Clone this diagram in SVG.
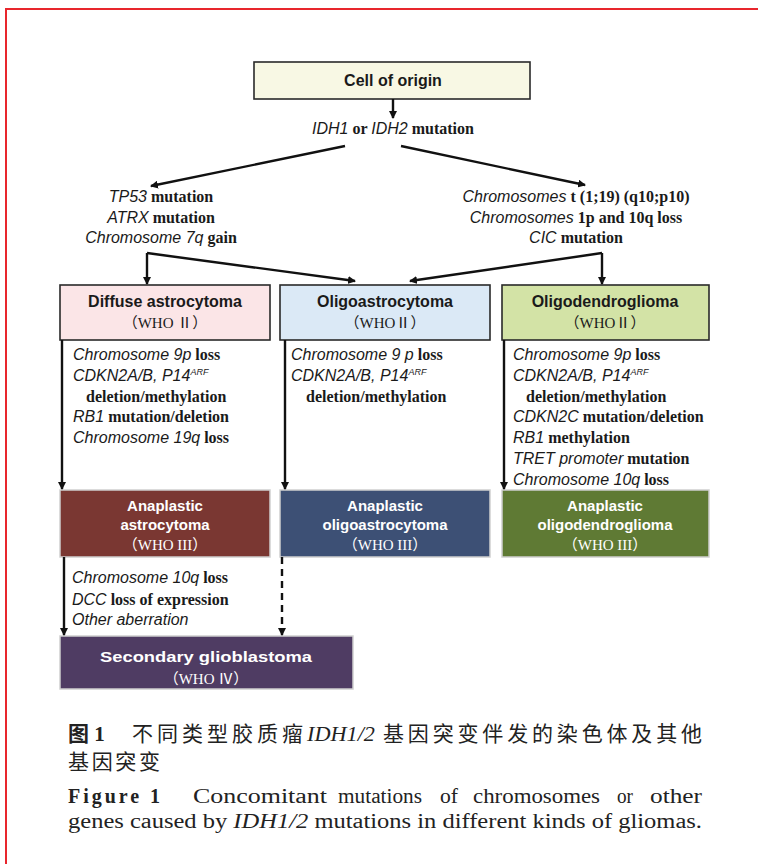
<svg xmlns="http://www.w3.org/2000/svg" width="758" height="864" viewBox="0 0 758 864">
<style>
.bx{stroke:#2a2a2a;stroke-width:1.6}
.dk{stroke:#cfcfcf;stroke-width:1.5}
.t{font-family:"Liberation Sans",Arial,sans-serif;font-weight:bold;font-size:16px;text-anchor:middle;fill:#1a1a1a}
.w{font-family:"Liberation Sans",Arial,sans-serif;font-weight:bold;font-size:15px;text-anchor:middle;fill:#fff}
.who{font-family:"Liberation Serif","Noto Sans CJK SC",serif;font-size:15px;text-anchor:middle;fill:#1a1a1a}
.whow{font-family:"Liberation Serif","Noto Sans CJK SC",serif;font-size:15px;text-anchor:middle;fill:#fff}
.g{font-family:"Liberation Serif",serif;font-size:16px;fill:#1a1a1a;font-weight:bold}
.i{font-family:"Liberation Sans",Arial,sans-serif;font-style:italic;font-weight:normal}
.c{font-family:"Liberation Serif","Noto Sans CJK SC",serif;font-size:21px;fill:#222}
.e{font-family:"Liberation Serif",serif;font-size:20px;fill:#222}
.ln{stroke:#111;stroke-width:2.4;fill:none}
</style>
<defs>
<marker id="ah" markerWidth="8" markerHeight="8" refX="7" refY="4" orient="auto" markerUnits="userSpaceOnUse">
<path d="M0,0 L8,4 L0,8 Z" fill="#111"/>
</marker>
</defs>
<rect width="758" height="864" fill="#fff"/>
<path d="M6,864 V9 H758" stroke="#e8262d" stroke-width="2" fill="none"/>

<g id="cell">
<rect x="254" y="62" width="276" height="37" fill="#f8f8e4" class="bx"/>
<text x="393" y="86" class="t">Cell of origin</text>
</g>
<g id="idh">
<text x="393" y="134" class="g" text-anchor="middle"><tspan class="i" font-weight="bold">IDH1</tspan> or <tspan class="i" font-weight="bold">IDH2</tspan> mutation</text>
</g>
<g id="left-muts">
<text class="g" text-anchor="middle"><tspan x="161" y="202"><tspan class="i" font-weight="bold">TP53</tspan> mutation</tspan><tspan x="161" y="223"><tspan class="i" font-weight="bold">ATRX</tspan> mutation</tspan><tspan x="161" y="243"><tspan class="i" font-weight="bold">Chromosome 7q</tspan> gain</tspan></text>
</g>
<g id="right-muts">
<text class="g" text-anchor="middle"><tspan x="576" y="202"><tspan class="i" font-weight="bold">Chromosomes</tspan> t (1;19) (q10;p10)</tspan><tspan x="576" y="223"><tspan class="i" font-weight="bold">Chromosomes</tspan> 1p and 10q loss</tspan><tspan x="576" y="243"><tspan class="i" font-weight="bold">CIC</tspan> mutation</tspan></text>
</g>

<g id="diffuse">
<rect x="60" y="285" width="210" height="55" fill="#fbe5e7" class="bx"/>
<text x="165" y="307" class="t">Diffuse astrocytoma</text>
<text x="165" y="328" class="who">（WHO  Ⅱ）</text>
</g>
<g id="oligoastro">
<rect x="280" y="285" width="210" height="55" fill="#dbe9f6" class="bx"/>
<text x="385" y="307" class="t">Oligoastrocytoma</text>
<text x="385" y="328" class="who">（WHOⅡ）</text>
</g>
<g id="oligodendro">
<rect x="502" y="285" width="207" height="55" fill="#d3e3a6" class="bx"/>
<text x="605" y="307" class="t">Oligodendroglioma</text>
<text x="605" y="328" class="who">（WHOⅡ）</text>
</g>

<g id="list1">
<text class="g"><tspan x="73" y="360"><tspan class="i">Chromosome 9p</tspan> loss</tspan><tspan x="73" y="381"><tspan class="i">CDKN2A/B, P14</tspan><tspan class="i" font-size="9" dy="-6">ARF</tspan></tspan><tspan x="86" y="402">deletion/methylation</tspan><tspan x="73" y="422"><tspan class="i">RB1</tspan> mutation/deletion</tspan><tspan x="73" y="443"><tspan class="i">Chromosome 19q</tspan> loss</tspan></text>
</g>
<g id="list2">
<text class="g"><tspan x="291" y="360"><tspan class="i">Chromosome 9 p</tspan> loss</tspan><tspan x="291" y="381"><tspan class="i">CDKN2A/B, P14</tspan><tspan class="i" font-size="9" dy="-6">ARF</tspan></tspan><tspan x="306" y="402">deletion/methylation</tspan></text>
</g>
<g id="list3">
<text class="g"><tspan x="513" y="360"><tspan class="i">Chromosome 9p</tspan> loss</tspan><tspan x="513" y="381"><tspan class="i">CDKN2A/B, P14</tspan><tspan class="i" font-size="9" dy="-6">ARF</tspan></tspan><tspan x="526" y="402">deletion/methylation</tspan><tspan x="513" y="422"><tspan class="i">CDKN2C</tspan> mutation/deletion</tspan><tspan x="513" y="443"><tspan class="i">RB1</tspan> methylation</tspan><tspan x="513" y="464"><tspan class="i">TRET promoter</tspan> mutation</tspan><tspan x="513" y="485"><tspan class="i">Chromosome 10q</tspan> loss</tspan></text>
</g>

<g id="ana-astro">
<rect x="60" y="490" width="210" height="67" fill="#7a3732" class="dk"/>
<text x="165" y="511" class="w">Anaplastic</text>
<text x="165" y="530" class="w">astrocytoma</text>
<text x="165" y="550" class="whow">（WHO III）</text>
</g>
<g id="ana-oligoastro">
<rect x="280" y="490" width="210" height="67" fill="#3d5075" class="dk"/>
<text x="385" y="511" class="w">Anaplastic</text>
<text x="385" y="530" class="w">oligoastrocytoma</text>
<text x="385" y="550" class="whow">（WHO III）</text>
</g>
<g id="ana-oligodendro">
<rect x="502" y="490" width="207" height="67" fill="#5f7a34" class="dk"/>
<text x="605" y="511" class="w">Anaplastic</text>
<text x="605" y="530" class="w">oligodendroglioma</text>
<text x="605" y="550" class="whow">（WHO III）</text>
</g>

<g id="list4">
<text class="g"><tspan x="72" y="583"><tspan class="i">Chromosome 10q</tspan> loss</tspan><tspan x="72" y="605"><tspan class="i">DCC</tspan> loss of expression</tspan><tspan x="72" y="625"><tspan class="i">Other aberration</tspan></tspan></text>
</g>
<g id="secondary">
<rect x="60" y="636" width="293" height="53" fill="#4f3c63" class="dk"/>
<text x="206" y="662" class="w" font-size="19" textLength="212" lengthAdjust="spacingAndGlyphs">Secondary glioblastoma</text>
<text x="206" y="684" class="whow">（WHO Ⅳ）</text>
</g>

<g id="connectors">
<line x1="393" y1="99" x2="393" y2="118" class="ln" marker-end="url(#ah)"/>
<line x1="345" y1="146" x2="151" y2="186" class="ln" marker-end="url(#ah)"/>
<line x1="401" y1="146" x2="585" y2="185" class="ln" marker-end="url(#ah)"/>
<line x1="147" y1="253" x2="147" y2="284" class="ln" marker-end="url(#ah)"/>
<line x1="147" y1="253" x2="355" y2="281" class="ln" marker-end="url(#ah)"/>
<line x1="602" y1="253" x2="602" y2="284" class="ln" marker-end="url(#ah)"/>
<line x1="602" y1="253" x2="410" y2="281" class="ln" marker-end="url(#ah)"/>
<line x1="62" y1="340" x2="62" y2="489" class="ln" stroke-width="2" marker-end="url(#ah)"/>
<line x1="285" y1="340" x2="285" y2="489" class="ln" stroke-width="2" marker-end="url(#ah)"/>
<line x1="504" y1="340" x2="504" y2="489" class="ln" stroke-width="2" marker-end="url(#ah)"/>
<line x1="64" y1="557" x2="64" y2="635" class="ln" stroke-width="2" marker-end="url(#ah)"/>
<line x1="282" y1="557" x2="282" y2="635" class="ln" stroke-width="2.5" stroke-dasharray="7,5" marker-end="url(#ah)"/>
</g>

<g id="caption">
<text x="68" y="741" class="c" font-weight="bold">图 1</text>
<text x="132" y="741" class="c" textLength="171" lengthAdjust="spacing">不同类型胶质瘤</text>
<text x="307" y="741" class="c" font-style="italic" textLength="68" lengthAdjust="spacingAndGlyphs">IDH1/2</text>
<text x="383" y="741" class="c" textLength="319" lengthAdjust="spacing">基因突变伴发的染色体及其他</text>
<text x="68" y="769" class="c" textLength="92" lengthAdjust="spacing">基因突变</text>
<text x="68" y="803" class="e" font-weight="bold" textLength="92" lengthAdjust="spacing">Figure 1</text>
<text x="193" y="803" class="e" textLength="134" lengthAdjust="spacingAndGlyphs">Concomitant</text>
<text x="338" y="803" class="e" textLength="84" lengthAdjust="spacingAndGlyphs">mutations</text>
<text x="440" y="803" class="e" textLength="18" lengthAdjust="spacingAndGlyphs">of</text>
<text x="473" y="803" class="e" textLength="127" lengthAdjust="spacingAndGlyphs">chromosomes</text>
<text x="617" y="803" class="e" textLength="16" lengthAdjust="spacingAndGlyphs">or</text>
<text x="650" y="803" class="e" textLength="52" lengthAdjust="spacingAndGlyphs">other</text>
<text x="68" y="828" class="e" textLength="634" lengthAdjust="spacingAndGlyphs">genes caused by <tspan font-style="italic">IDH1/2</tspan> mutations in different kinds of gliomas.</text>
</g>
</svg>
